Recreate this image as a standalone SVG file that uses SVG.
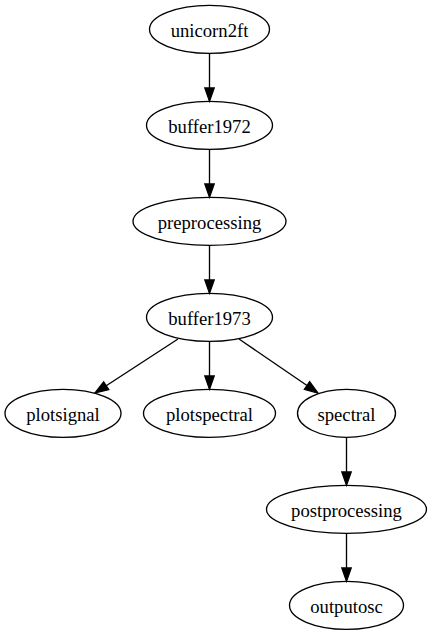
<svg xmlns="http://www.w3.org/2000/svg" width="432" height="635" viewBox="0 0 432 635">
<style>
.node ellipse{fill:none;stroke:#000;stroke-width:1.33}
.node text{font-family:"Liberation Serif","Times New Roman",serif;font-size:18.67px;text-anchor:middle;fill:#000}
.edge path{fill:none;stroke:#000;stroke-width:1.33}
</style>
<defs>
<marker id="arr" markerUnits="userSpaceOnUse" markerWidth="16" markerHeight="12" refX="0" refY="0" viewBox="0 -6 16 12" orient="auto" overflow="visible">
<polygon points="0,-4.67 13.33,0 0,4.67" fill="#000" stroke="#000" stroke-width="1.33"/>
</marker>
</defs>
<rect width="432" height="635" fill="#fff"/>
<g id="edges" class="edge">
<path d="M209.5,53.3 V88" marker-end="url(#arr)"/>
<path d="M209.5,149.3 V184" marker-end="url(#arr)"/>
<path d="M209.5,245.3 V280" marker-end="url(#arr)"/>
<path d="M209.5,341.3 V376" marker-end="url(#arr)"/>
<path d="M178,339 L106.2,385.7" marker-end="url(#arr)"/>
<path d="M239,339 L307,385.5" marker-end="url(#arr)"/>
<path d="M346.5,437.3 V472" marker-end="url(#arr)"/>
<path d="M346.5,533.3 V568" marker-end="url(#arr)"/>
</g>
<g id="unicorn2ft" class="node"><ellipse cx="209.5" cy="29.3" rx="60" ry="24"/><text x="209.5" y="37">unicorn2ft</text></g>
<g id="buffer1972" class="node"><ellipse cx="209.5" cy="125.3" rx="63" ry="24"/><text x="209.5" y="133">buffer1972</text></g>
<g id="preprocessing" class="node"><ellipse cx="209.5" cy="221.3" rx="76.5" ry="24"/><text x="209.5" y="229">preprocessing</text></g>
<g id="buffer1973" class="node"><ellipse cx="209.5" cy="317.3" rx="63" ry="24"/><text x="209.5" y="325">buffer1973</text></g>
<g id="plotsignal" class="node"><ellipse cx="63" cy="413.3" rx="58" ry="24"/><text x="63" y="421">plotsignal</text></g>
<g id="plotspectral" class="node"><ellipse cx="209.5" cy="413.3" rx="66" ry="24"/><text x="209.5" y="421">plotspectral</text></g>
<g id="spectral" class="node"><ellipse cx="346.5" cy="413.3" rx="49" ry="24"/><text x="346.5" y="421">spectral</text></g>
<g id="postprocessing" class="node"><ellipse cx="346.5" cy="509.3" rx="80" ry="24"/><text x="346.5" y="517">postprocessing</text></g>
<g id="outputosc" class="node"><ellipse cx="346.5" cy="605.3" rx="57" ry="24"/><text x="346.5" y="613">outputosc</text></g>
</svg>
